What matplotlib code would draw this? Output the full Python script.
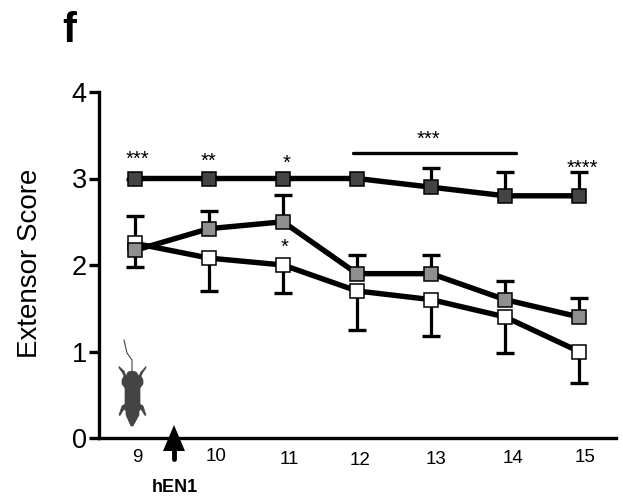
import matplotlib
matplotlib.use("Agg")
import matplotlib.pyplot as plt
from matplotlib.patches import Polygon
from matplotlib.transforms import ScaledTranslation

plt.rcParams['font.family'] = ['Liberation Sans', 'DejaVu Sans']

days = [9, 10, 11, 12, 13, 14, 15]
day_labels = ['9', '10', '11', '12', '13', '14', '15']
dark = [3, 3, 3, 3, 2.9, 2.8, 2.8]
dark_upper = [3, 3, 3, 3, 3.12, 3.07, 3.07]
gray = [2.17, 2.42, 2.5, 1.9, 1.9, 1.6, 1.4]
gray_upper = [2.57, 2.62, 2.81, 2.12, 2.12, 1.82, 1.62]
white = [2.25, 2.08, 2.0, 1.7, 1.6, 1.4, 1.0]
white_lower = [1.98, 1.70, 1.68, 1.25, 1.18, 0.98, 0.64]
y_ticks = [0, 1, 2, 3, 4]
# hand-placed offsets of the x labels in the reference (px right, px down)
label_shift = [(2, 0), (7, -1), (6, 2), (3, 3), (5, 2), (8, 1), (6, 0)]
stars = [(9.03, 3.22, '***'), (10.0, 3.2, '**'), (11.05, 3.17, '*'), (11.02, 2.2, '*'),
         (12.97, 3.45, '***'), (15.05, 3.12, '****')]

W, H = 623, 499
fig = plt.figure(figsize=(W / 100, H / 100), dpi=100)
ax = fig.add_axes([98.5 / W, 1 - 438 / H, (616 - 98.5) / W, 346 / H])
ax.set_xlim(8.507, 15.5)
ax.set_ylim(0, 4)
for s in ('top', 'right'):
    ax.spines[s].set_visible(False)
for s in ('left', 'bottom'):
    ax.spines[s].set_linewidth(2.4)

# one-sided error bars: stem plus a cap at the far end only
for centre, end in ((dark, dark_upper), (gray, gray_upper), (white, white_lower)):
    ax.vlines(days, centre, end, color='black', lw=2.3, zorder=2)
    ax.plot(days, end, ls='none', marker='_', ms=12.5, mew=2.4, color='black', zorder=2, clip_on=False)

lw = 3.9
ms = 10.4
style = dict(color='black', lw=lw, marker='s', ms=ms, mec='black', mew=1.1, solid_capstyle='butt')
ax.plot(days, white, mfc='white', zorder=3, **style)
ax.plot(days, gray, mfc='#8f8f8f', zorder=4, **style)
ax.plot(days, dark, mfc='#444444', zorder=5, **style)

ax.set_yticks(y_ticks)
ax.set_yticklabels([str(v) for v in y_ticks], fontsize=19.5)
ax.tick_params(axis='y', length=7, width=2.4, pad=1.5)
ax.set_xticks(days)
ax.set_xticklabels(day_labels, fontsize=13.5)
ax.tick_params(axis='x', length=0, pad=8)
for tick, (dx, dy) in zip(ax.xaxis.get_major_ticks(), label_shift):
    tick.label1.set_transform(tick.label1.get_transform()
                              + ScaledTranslation(dx / 100, -dy / 100, fig.dpi_scale_trans))

fig.text(30 / W, 1 - 263 / H, 'Extensor Score', rotation=90, fontsize=20, ha='center', va='center')
fig.text(62 / W, 1 - 31 / H, 'f', fontsize=30, fontweight='bold', ha='left', va='center')
fig.text(175 / W, 1 - 487 / H, 'hEN1', fontsize=13, fontweight='bold', ha='center', va='center')

for x, y, s in stars:
    ax.text(x, y, s, fontsize=14.5, ha='center', va='center', zorder=6)

# significance bar
ax.plot([11.95, 14.15], [3.29, 3.29], color='black', lw=2.4, solid_capstyle='round', clip_on=False)


def px(points):
    return [(x / W, 1 - y / H) for x, y in points]


# treatment arrow
fig.add_artist(Polygon(px([(174, 425), (163, 451), (185, 451)]), closed=True, fc='black', ec='none', zorder=10))
fig.add_artist(plt.Line2D([174 / W, 174 / W], [1 - 450 / H, 1 - 459 / H], color='black', lw=3.5,
                          solid_capstyle='round', zorder=10))

# mouse silhouette
mouse = [(132, 371), (136, 372), (139, 376), (141, 372), (146, 366.5), (146, 368), (143, 372), (141, 376),
         (143, 380), (143, 384), (140, 388), (140, 404), (143, 406), (146, 415), (145, 415.5), (141, 409),
         (139, 411), (139, 415), (133, 426), (131, 426), (126, 415), (126, 411), (124, 409), (120, 415.5),
         (119, 415), (122, 406), (125, 404), (125, 388), (122, 384), (122, 380), (124, 376), (122, 372),
         (119, 368), (119, 366.5), (124, 371), (126, 376), (128, 372)]
fig.add_artist(Polygon(px(mouse), closed=True, fc='#444444', ec='#444444', lw=0.5, zorder=10))
fig.add_artist(plt.Line2D([x / W for x in (124, 127, 132, 132)],
                          [1 - y / H for y in (340, 353, 360, 371)],
                          color='#444444', lw=0.8, zorder=10))

fig.savefig('out.png', dpi=100)
